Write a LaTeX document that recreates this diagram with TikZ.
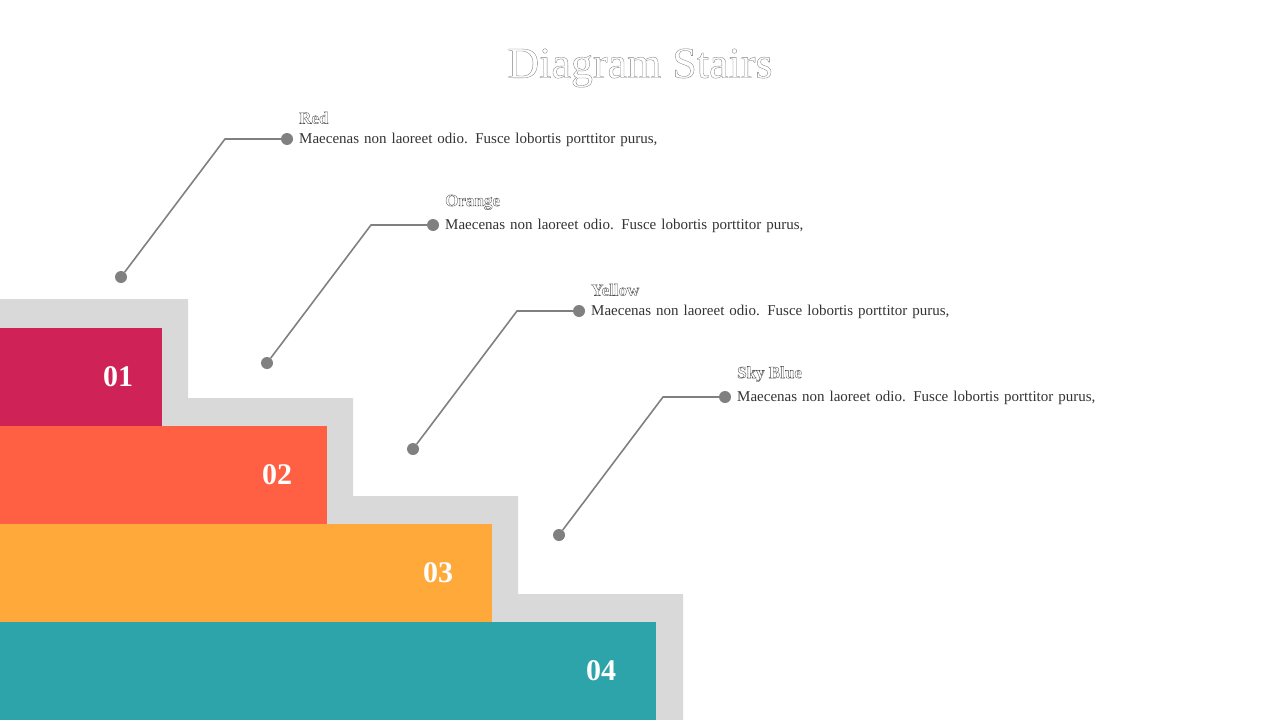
\documentclass[tikz,border=0pt]{standalone}
\usepackage{fontspec}
\setmainfont{Liberation Serif}
\usetikzlibrary{positioning}
\definecolor{StepRed}{HTML}{CF2358}
\definecolor{StepOrange}{HTML}{FF5F43}
\definecolor{StepYellow}{HTML}{FFA93B}
\definecolor{StepTeal}{HTML}{2CA4AA}
\definecolor{StepShade}{HTML}{D9D9D9}
\definecolor{LineGray}{HTML}{808080}
\newcommand{\outlined}[1]{\special{pdf:literal 1 Tr 0.35 w}#1\special{pdf:literal 0 Tr}}
\tikzset{
    >=latex
}

\begin{document}
\begin{tikzpicture}[
    x=1pt,y=-1pt,
    bar/.style={anchor=north west,inner sep=0,minimum height=98pt},
    num/.style={text=white,font=\bfseries\fontsize{30}{30}\selectfont},
    dot/.style={circle,fill=LineGray,inner sep=0,minimum size=12pt},
    lead/.style={LineGray,line width=1.6pt},
    head/.style={anchor=south west,inner sep=0,text=gray!60!black,font=\bfseries\fontsize{17}{17}\selectfont},
    body/.style={anchor=north west,inner sep=0,text width=400pt,align=left,text=black!80,font=\fontsize{15}{20}\selectfont}
    ]
    \useasboundingbox (0,0) rectangle (1280,720);

    % shadow of the stairs
    \fill[StepShade] (0,299) -- (188,299) -- (188,398) -- (353,398) -- (353,496) -- (518,496)
        -- (518,594) -- (683,594) -- (683,720) -- (0,720) -- cycle;

    % steps
    \node[bar,fill=StepRed,minimum width=162pt] (step1) at (0,328) {};
    \node[bar,fill=StepOrange,minimum width=327pt] (step2) at (0,426) {};
    \node[bar,fill=StepYellow,minimum width=492pt] (step3) at (0,524) {};
    \node[bar,fill=StepTeal,minimum width=656pt] (step4) at (0,622) {};
    \node[num] (num1) at (118,377) {01};
    \node[num] (num2) at (277,475) {02};
    \node[num] (num3) at (438,573) {03};
    \node[num] (num4) at (601,671) {04};

    \node[text=gray,font=\fontsize{44}{44}\selectfont] (title) at (640,68) {\outlined{Diagram Stairs}};

    % callouts
    \foreach \i/\x/\y/\name in {1/121/277/Red,2/267/363/Orange,3/413/449/Yellow,4/559/535/Sky Blue}{
        \node[dot] (low\i) at (\x,\y) {};
        \coordinate (bend\i) at (\x+104,\y-138);
        \node[dot] (high\i) at (\x+166,\y-138) {};
        \draw[lead] (low\i) -- (bend\i) -- (high\i);
        \node[head] (name\i) at (\x+178,\y-153) {\outlined{\name}};
        \node[body] (text\i) at (\x+178,\y-144) {Maecenas non laoreet odio. Fusce lobortis porttitor purus,};
    }
\end{tikzpicture}
\end{document}
